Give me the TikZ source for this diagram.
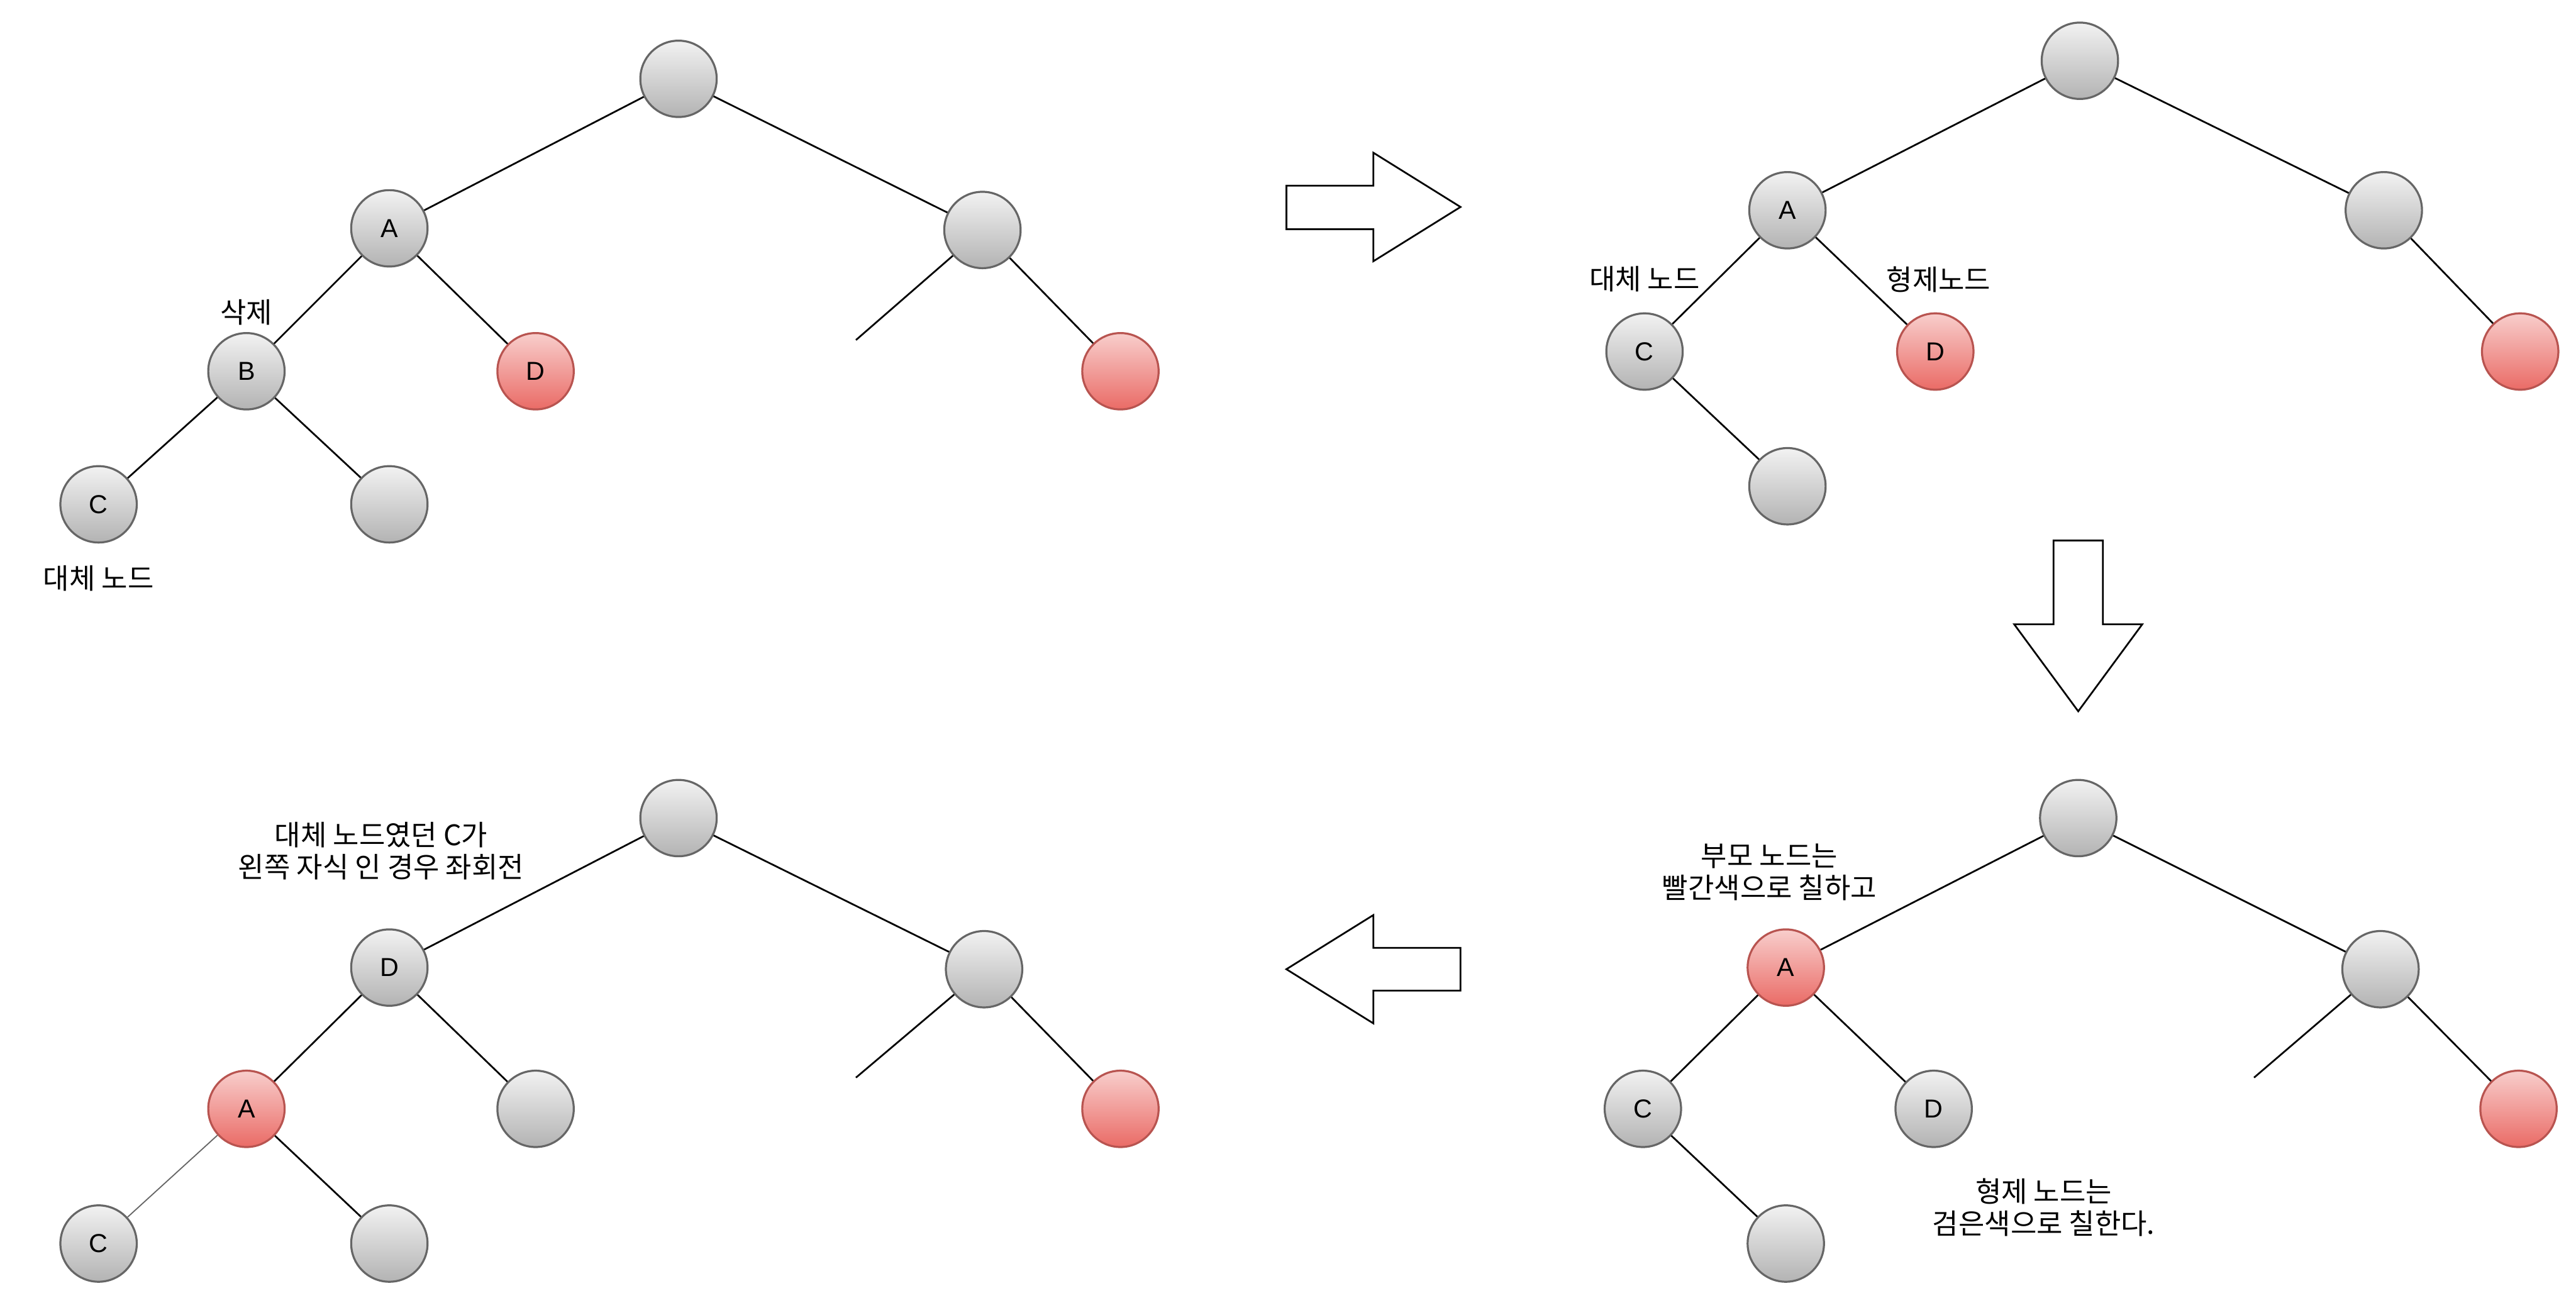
\documentclass[tikz,border=0pt]{standalone}
\usepackage{fontspec}
\setmainfont{Liberation Sans}
\newfontfamily\kr{Noto Sans CJK KR}

\definecolor{gtop}{HTML}{F2F2F2}
\definecolor{gbot}{HTML}{B3B3B3}
\definecolor{gline}{HTML}{666666}
\definecolor{rtop}{HTML}{F8CECC}
\definecolor{rbot}{HTML}{EA6B66}
\definecolor{rline}{HTML}{B85450}

\newcommand{\blockarrow}[1]% list of corner points
    {\draw[bigarrow] plot coordinates {#1} -- cycle;
}

\begin{document}
\begin{tikzpicture}[
    x=0.02cm, y=-0.02cm,
    gnode/.style={circle, draw=gline, line width=0.7pt, top color=gtop, bottom color=gbot,
        minimum size=0.93cm, inner sep=0pt, font=\fontsize{9}{11}\selectfont},
    rnode/.style={gnode, draw=rline, top color=rtop, bottom color=rbot},
    note/.style={font=\kr\fontsize{9.8}{11}\selectfont, align=center},
    edge/.style={line width=0.6pt},
    bigarrow/.style={line width=0.6pt, line join=miter}
]
    \useasboundingbox (0,0) rectangle (1568,793);

    % Step 1: delete B, C replaces it (top left)
    \node[gnode] (root1)  at (413,48)  {};
    \node[gnode] (a1)     at (237,139) {A};
    \node[gnode] (right1) at (598,140) {};
    \node[gnode] (b1)     at (150,226) {B};
    \node[rnode] (d1)     at (326,226) {D};
    \node[rnode] (red1)   at (682,226) {};
    \node[gnode] (c1)     at (60,307)  {C};
    \node[gnode] (leaf1)  at (237,307) {};
    \coordinate  (stub1)  at (521,207);
    \node[note] at (150,190) {삭제};
    \node[note] at (60,352)  {대체 노드};

    \draw[edge] (root1) -- (a1);
    \draw[edge] (root1) -- (right1);
    \draw[edge] (a1) -- (b1);
    \draw[edge] (a1) -- (d1);
    \draw[edge] (b1) -- (c1);
    \draw[edge] (b1) -- (leaf1);
    \draw[edge] (right1) -- (stub1);
    \draw[edge] (right1) -- (red1);

    % Step 2: C in place of B (top right)
    \node[gnode] (root2)  at (1266,37)  {};
    \node[gnode] (a2)     at (1088,128) {A};
    \node[gnode] (right2) at (1451,128) {};
    \node[gnode] (c2)     at (1001,214) {C};
    \node[rnode] (d2)     at (1178,214) {D};
    \node[rnode] (red2)   at (1534,214) {};
    \node[gnode] (leaf2)  at (1088,296) {};
    \node[note] at (1001,170) {대체 노드};
    \node[note] at (1180,170) {형제노드};

    \draw[edge] (root2) -- (a2);
    \draw[edge] (root2) -- (right2);
    \draw[edge] (a2) -- (c2);
    \draw[edge] (a2) -- (d2);
    \draw[edge] (c2) -- (leaf2);
    \draw[edge] (right2) -- (red2);

    % Step 3: recolour parent and sibling (bottom right)
    \node[gnode] (root3)  at (1265,498) {};
    \node[rnode] (a3)     at (1087,589) {A};
    \node[gnode] (right3) at (1449,590) {};
    \node[gnode] (c3)     at (1000,675) {C};
    \node[gnode] (d3)     at (1177,675) {D};
    \node[rnode] (red3)   at (1533,675) {};
    \node[gnode] (leaf3)  at (1087,757) {};
    \coordinate  (stub3)  at (1372,656);
    \node[note] at (1077,531) {부모 노드는\\빨간색으로 칠하고};
    \node[note] at (1244,735) {형제 노드는\\검은색으로 칠한다.};

    \draw[edge] (root3) -- (a3);
    \draw[edge] (root3) -- (right3);
    \draw[edge] (a3) -- (c3);
    \draw[edge] (a3) -- (d3);
    \draw[edge] (c3) -- (leaf3);
    \draw[edge] (right3) -- (stub3);
    \draw[edge] (right3) -- (red3);

    % Step 4: rotate left (bottom left)
    \node[gnode] (root4)  at (413,498) {};
    \node[gnode] (d4)     at (237,589) {D};
    \node[gnode] (right4) at (599,590) {};
    \node[rnode] (a4)     at (150,675) {A};
    \node[gnode] (leaf4)  at (326,675) {};
    \node[rnode] (red4)   at (682,675) {};
    \node[gnode] (c4)     at (60,757)  {C};
    \node[gnode] (leaf5)  at (237,757) {};
    \coordinate  (stub4)  at (521,656);
    \node[note] at (232,518) {대체 노드였던 C가\\왼쪽 자식 인 경우 좌회전};

    \draw[edge] (root4) -- (d4);
    \draw[edge] (root4) -- (right4);
    \draw[edge] (d4) -- (a4);
    \draw[edge] (d4) -- (leaf4);
    \draw[edge, draw=gline, line width=0.4pt] (a4) -- (c4);
    \draw[edge] (a4) -- (leaf5);
    \draw[edge] (right4) -- (stub4);
    \draw[edge] (right4) -- (red4);

    % Block arrows between the steps
    \blockarrow{(783,113) (836,113) (836,93) (889,126) (836,159) (836,139.5) (783,139.5)}
    \blockarrow{(1250,329) (1280,329) (1280,380) (1304,380) (1265,433) (1226,380) (1250,380)}
    \blockarrow{(889,577) (836,577) (836,557) (783,590) (836,623) (836,603) (889,603)}

\end{tikzpicture}
\end{document}
